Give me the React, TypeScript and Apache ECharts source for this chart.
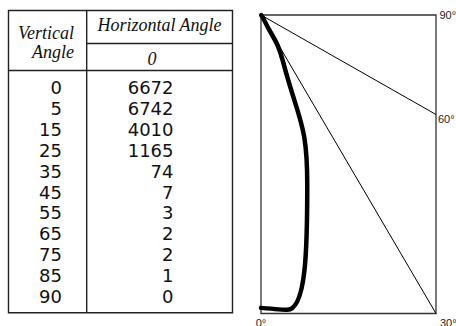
import React, { useEffect, useRef } from "react";
import * as echarts from "echarts";

// ---- data ----
const vertAngles = [0, 5, 15, 25, 35, 45, 55, 65, 75, 85, 90];
const candela = [6672, 6742, 4010, 1165, 74, 7, 3, 2, 2, 1, 0];
const horizAngles = [0];
const rayAngles = [90, 60, 30, 0];
const vertHeader = ["Vertical", "Angle"];
const horizHeader = "Horizontal Angle";
const plotMaxCd = 6800; // depth of plot box in candela

const W = 456;
const H = 326;
const NUM_FONT = "'DejaVu Sans', sans-serif";
const LBL_FONT = "'Liberation Sans', Arial, sans-serif";
const SERIF = "'Liberation Serif', 'DejaVu Serif', serif";

export default function App() {
  const ref = useRef<HTMLDivElement>(null);
  useEffect(() => {
    if (!ref.current) return;
    const chart = echarts.init(ref.current, null, { renderer: "svg", width: W, height: H });
    const rad = (d: number) => (d * Math.PI) / 180;
    const yMax = plotMaxCd;
    const xMax = yMax * Math.tan(rad(30));

    const curve = vertAngles.map((a, i) => [candela[i] * Math.sin(rad(a)), candela[i] * Math.cos(rad(a))]);

    const rayEnd = (a: number) => {
      const s = Math.sin(rad(a));
      const c = Math.cos(rad(a));
      const t = Math.min(s > 1e-9 ? xMax / s : Infinity, c > 1e-9 ? yMax / c : Infinity);
      return [s * t, c * t];
    };

    const labelPos: Record<number, any> = {
      90: { position: "right", distance: 3.5, offset: [0, 0] },
      60: { position: "right", distance: 2, offset: [0, 4] },
      30: { position: "right", distance: 4, offset: [0, 9] },
      0: { position: "bottom", distance: 4, offset: [0, 0] },
    };

    const raySeries = rayAngles.map((a) => ({
      type: "line",
      name: `ray${a}`,
      symbol: "circle",
      symbolSize: 0,
      showSymbol: true,
      silent: true,
      clip: false,
      z: 2,
      itemStyle: { color: "#000", opacity: 1 },
      lineStyle: { width: 1, color: "#000", opacity: a === 0 || a === 90 ? 0 : 1 },
      data: [
        { value: [0, 0], label: { show: false } },
        {
          value: rayEnd(a),
          label: {
            show: true,
            formatter: `${a}°`,
            fontSize: 11,
            color: "#222",
            fontFamily: LBL_FONT,
            ...labelPos[a],
          },
        },
      ],
    }));

    // table graphics
    const tLeft = 8.5, tRight = 232.5, tTop = 10.5, tBottom = 312.7;
    const colDiv = 86.7;
    const subLine = 43.5, headLine = 70.5;
    const row0 = 87.8, rowStep = 20.85;
    const hFont = `italic 18px ${SERIF}`;
    const elements: any[] = [
      { type: "rect", shape: { x: tLeft, y: tTop, width: tRight - tLeft, height: tBottom - tTop }, style: { fill: "none", stroke: "#222", lineWidth: 1.4 } },
      { type: "line", shape: { x1: colDiv, y1: tTop, x2: colDiv, y2: tBottom }, style: { stroke: "#222", lineWidth: 1.4 } },
      { type: "line", shape: { x1: colDiv, y1: subLine, x2: tRight, y2: subLine }, style: { stroke: "#222", lineWidth: 1.4 } },
      { type: "line", shape: { x1: tLeft, y1: headLine, x2: tRight, y2: headLine }, style: { stroke: "#222", lineWidth: 1.4 } },
      { type: "text", x: 74, y: 33.4, style: { text: vertHeader[0], font: hFont, fill: "#111", align: "right", verticalAlign: "middle" } },
      { type: "text", x: 74, y: 52.4, style: { text: vertHeader[1], font: hFont, fill: "#111", align: "right", verticalAlign: "middle" } },
      { type: "text", x: 159.5, y: 25, style: { text: horizHeader, font: hFont, fill: "#111", align: "center", verticalAlign: "middle" } },
      ...horizAngles.map((h) => ({ type: "text", x: 152, y: 59.3, style: { text: String(h), font: hFont, fill: "#111", align: "center", verticalAlign: "middle" } })),
    ];
    vertAngles.forEach((a, i) => {
      const y = row0 + i * rowStep;
      elements.push({ type: "text", x: 62, y, style: { text: String(a), font: `18px ${NUM_FONT}`, fill: "#111", align: "right", verticalAlign: "middle" } });
      elements.push({ type: "text", x: 173.5, y, style: { text: String(candela[i]), font: `18px ${NUM_FONT}`, fill: "#111", align: "right", verticalAlign: "middle" } });
    });

    chart.setOption({
      animation: false,
      backgroundColor: "#fff",
      grid: { left: 261, top: 15, width: 175, height: 298.5, show: true, borderColor: "#333", borderWidth: 1.3, backgroundColor: "transparent" },
      xAxis: { type: "value", min: 0, max: xMax, show: false },
      yAxis: { type: "value", min: 0, max: yMax, inverse: true, show: false },
      graphic: { elements },
      series: [
        ...raySeries,
        {
          type: "line",
          name: "candela",
          data: curve,
          smooth: 0.5,
          symbol: "none",
          clip: false,
          z: 3,
          lineStyle: { width: 4.5, color: "#000", cap: "round", join: "round" },
        },
      ],
    });
    return () => chart.dispose();
  }, []);
  return <div ref={ref} style={{ position: "absolute", left: 0, top: 0, width: W, height: H }} />;
}
